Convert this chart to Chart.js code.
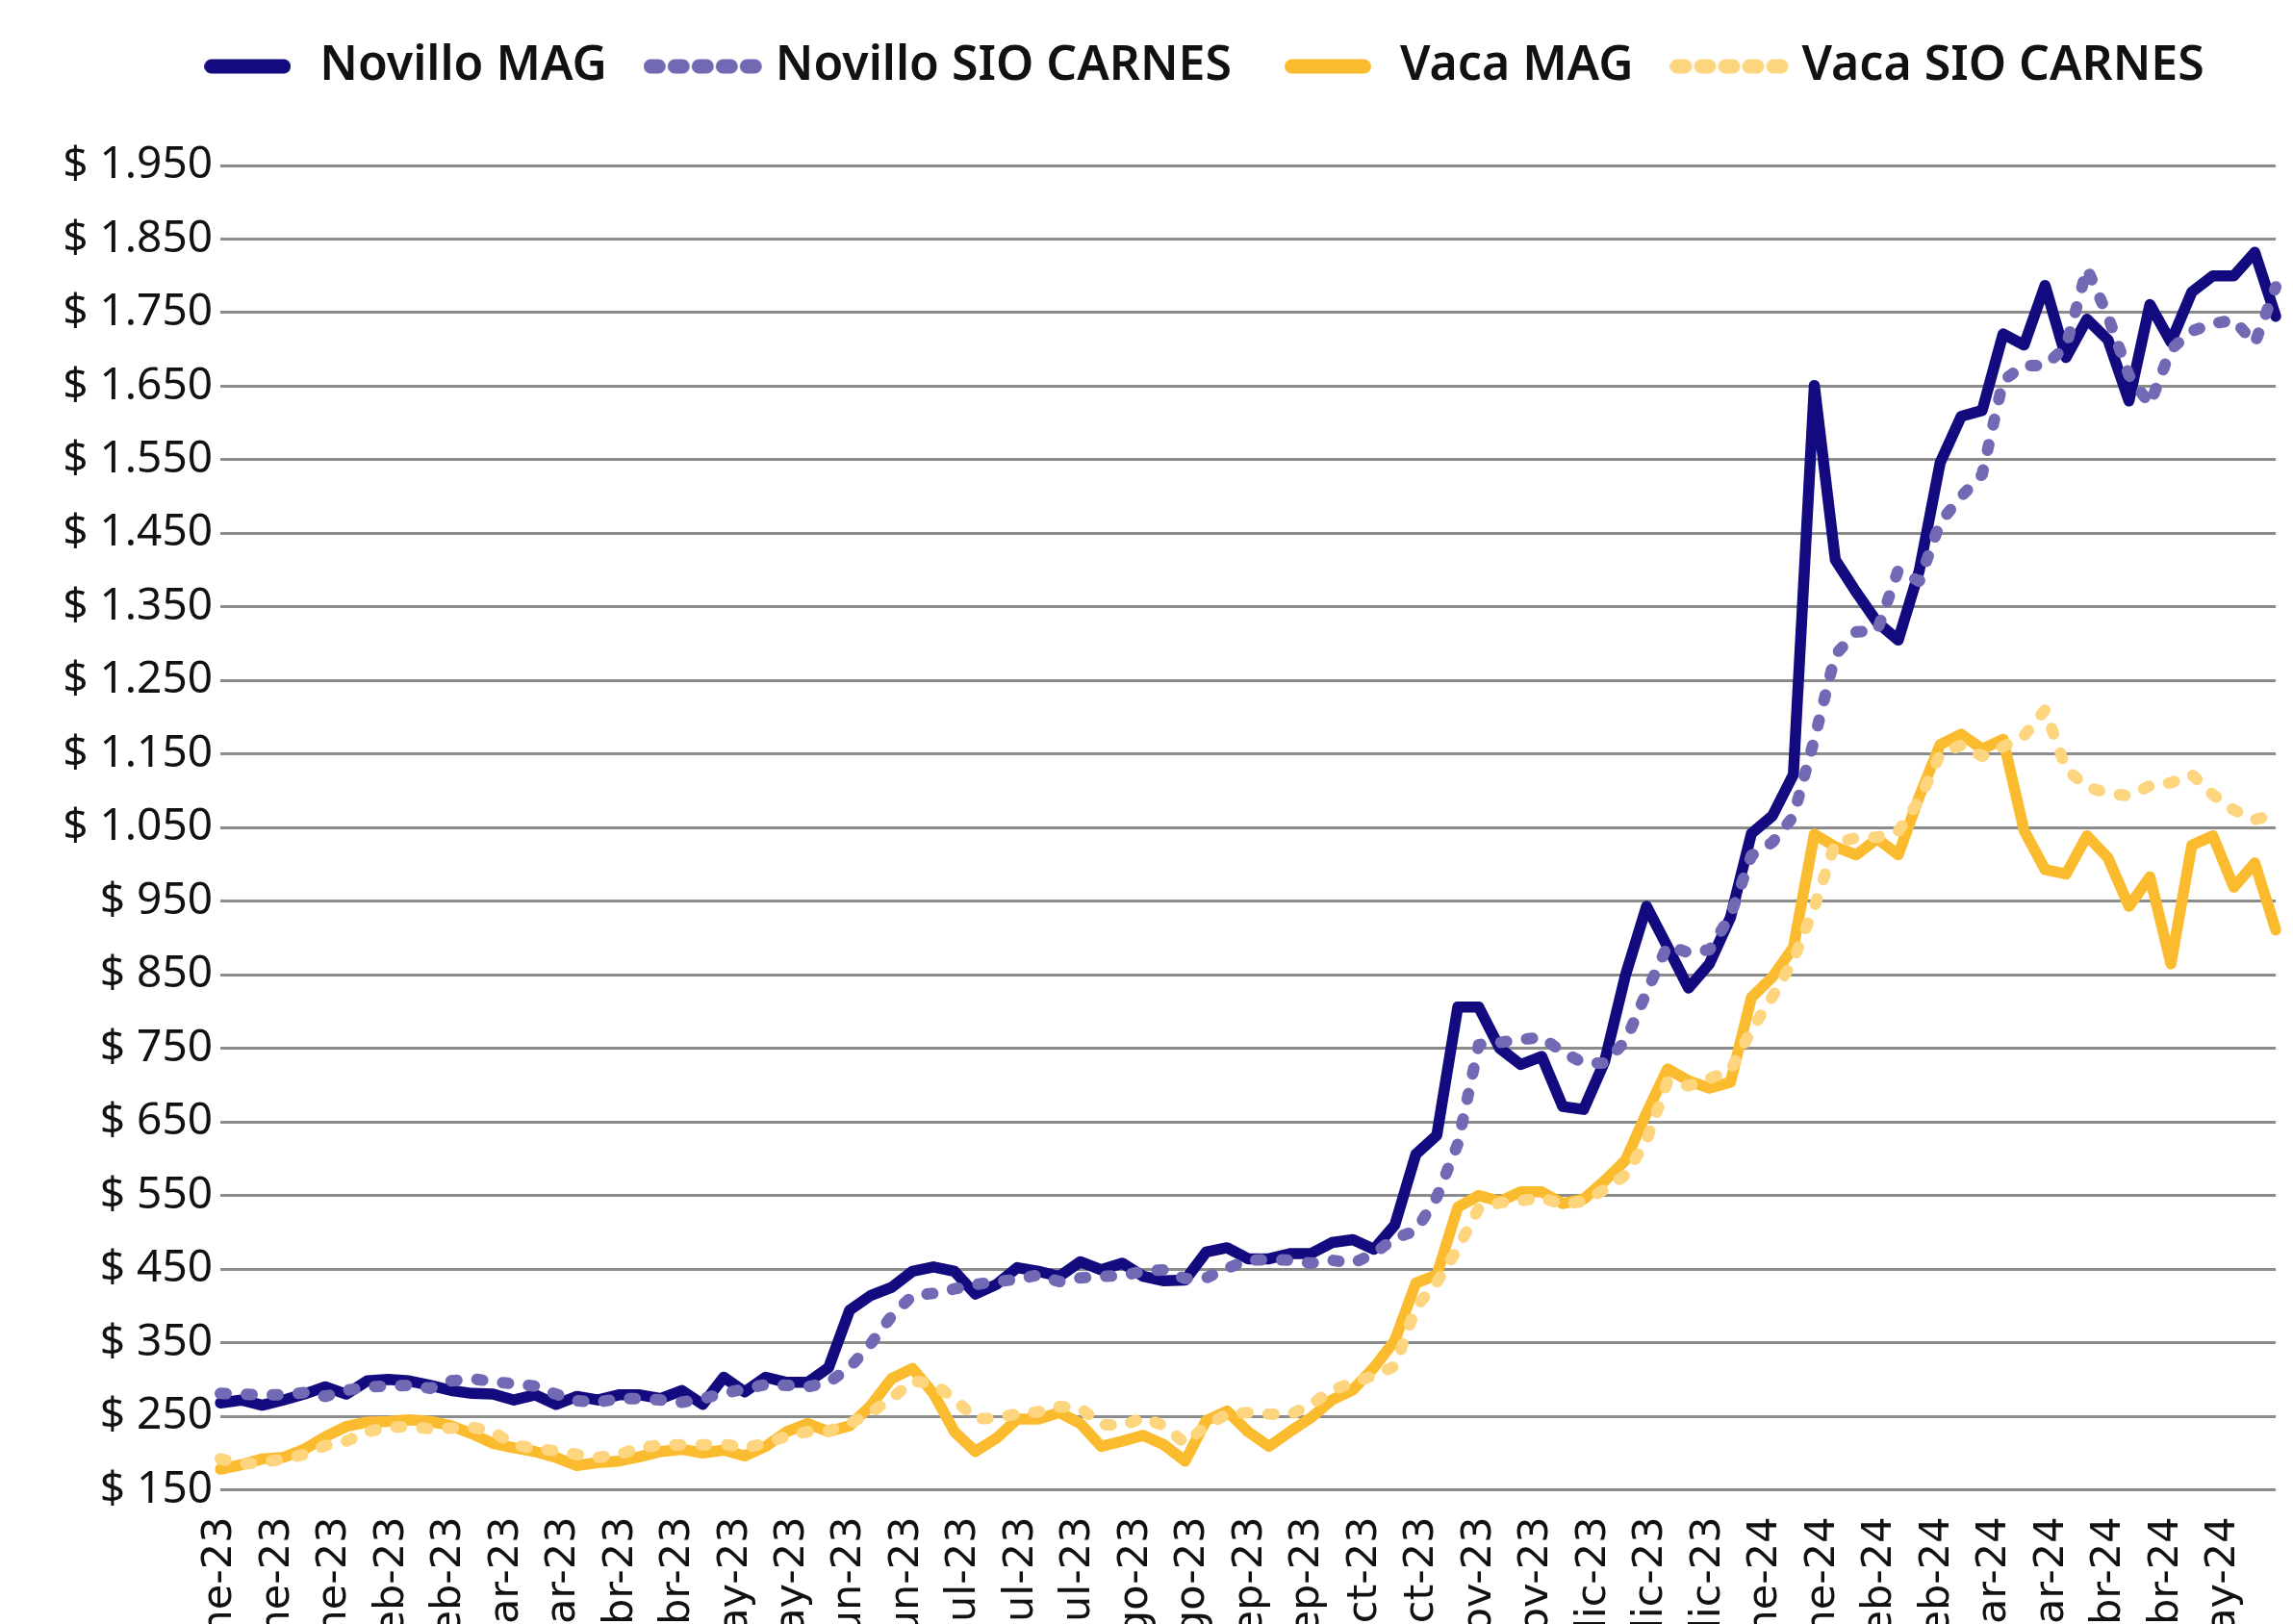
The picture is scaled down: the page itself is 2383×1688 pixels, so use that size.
<!DOCTYPE html>
<html lang="es">
<head>
<meta charset="utf-8">
<title>Novillo y Vaca - MAG vs SIO CARNES</title>
<script src="https://cdn.jsdelivr.net/npm/chart.js@4/dist/chart.umd.min.js"></script>
<style>
  html, body { margin: 0; padding: 0; background: #ffffff; }
  #wrap { width: 2383px; height: 1688px; }
</style>
</head>
<body>
<div id="wrap"><canvas id="precios" width="2383" height="1688"></canvas></div>
<script>
// weekly prices ($/kg)
const novilloMag = [268, 272, 265, 272, 280, 290, 280, 298, 300, 298,
  292, 285, 281, 280, 272, 279, 266, 277, 272, 279,
  279, 274, 285, 266, 303, 283, 303, 296, 296, 316,
  394, 414, 425, 447, 453, 447, 416, 429, 452, 447,
  440, 460, 449, 458, 440, 434, 435, 473, 479, 464,
  464, 471, 471, 486, 490, 477, 510, 606, 632, 806,
  806, 750, 728, 739, 671, 667, 732, 850, 943, 888,
  832, 865, 928, 1042, 1066, 1122, 1651, 1414, 1370, 1329,
  1305, 1399, 1546, 1609, 1617, 1721, 1706, 1787, 1689, 1741,
  1713, 1630, 1761, 1710, 1778, 1800, 1800, 1832, 1745];

const novilloSio = [281, 280, 279, 279, 282, 277, 285, 290, 291, 292,
  288, 298, 301, 297, 294, 291, 280, 271, 269, 274,
  274, 272, 269, 274, 281, 287, 293, 292, 290, 296,
  316, 348, 386, 414, 417, 423, 429, 433, 436, 442,
  433, 438, 440, 441, 447, 449, 437, 438, 451, 462,
  463, 462, 458, 462, 458, 471, 492, 502, 548, 620,
  755, 758, 762, 765, 745, 730, 730, 760, 826, 890,
  880, 884, 930, 1012, 1030, 1065, 1170, 1285, 1316, 1318,
  1400, 1385, 1465, 1500, 1530, 1658, 1678, 1678, 1704, 1810,
  1745, 1665, 1625, 1700, 1725, 1735, 1740, 1708, 1785];

const vacaMag = [178, 184, 192, 194, 205, 222, 236, 242, 243, 245,
  243, 237, 226, 213, 207, 202, 194, 183, 187, 189,
  195, 202, 205, 200, 204, 196, 209, 229, 240, 229,
  237, 264, 301, 315, 281, 229, 202, 220, 246, 246,
  255, 240, 209, 216, 224, 211, 189, 244, 257, 229,
  209, 229, 248, 272, 286, 316, 353, 431, 442, 534,
  550, 542, 555, 555, 539, 545, 570, 598, 662, 722,
  706, 696, 704, 819, 847, 887, 1041, 1024, 1013, 1035,
  1013, 1092, 1163, 1177, 1157, 1170, 1046, 993, 987, 1039,
  1009, 943, 983, 865, 1026, 1039, 969, 1002, 911];

const vacaSio = [192, 185, 187, 192, 198, 210, 216, 229, 235, 236,
  233, 234, 235, 229, 211, 206, 203, 198, 194, 198,
  207, 211, 211, 211, 212, 207, 213, 223, 229, 230,
  240, 255, 274, 298, 294, 274, 246, 248, 253, 256,
  263, 261, 239, 237, 248, 237, 213, 237, 253, 255,
  253, 252, 266, 285, 296, 305, 318, 398, 432, 478,
  533, 540, 543, 547, 538, 542, 558, 578, 625, 705,
  699, 709, 720, 775, 820, 870, 942, 1030, 1036, 1037,
  1045, 1087, 1150, 1162, 1147, 1160, 1175, 1210, 1130, 1105,
  1097, 1093, 1107, 1111, 1122, 1095, 1074, 1061, 1068];

// date-axis labels, one every two weeks
const tickLabels = ['ene-23', 'ene-23', 'ene-23', 'feb-23', 'feb-23', 'mar-23', 'mar-23',
  'abr-23', 'abr-23', 'may-23', 'may-23', 'jun-23', 'jun-23', 'jul-23', 'jul-23', 'jul-23',
  'ago-23', 'ago-23', 'sep-23', 'sep-23', 'oct-23', 'oct-23', 'nov-23', 'nov-23',
  'dic-23', 'dic-23', 'dic-23', 'ene-24', 'ene-24', 'feb-24', 'feb-24', 'mar-24', 'mar-24',
  'abr-24', 'abr-24', 'may-24'];

const seriesNames = ['Novillo MAG', 'Novillo SIO CARNES', 'Vaca MAG', 'Vaca SIO CARNES'];
const yTicks = { min: 150, max: 1950, step: 100 };

const weeks = novilloMag.map((_, i) => i + 1);

const NAVY = '#120a7e';
const PURPLE = '#7169b3';
const AMBER = '#fbbb2e';
const LIGHT_AMBER = '#fdd57e';
const DOTS = [6, 21];

// little line samples for the legend
function swatch(color, dotted) {
  const c = document.createElement('canvas');
  c.width = dotted ? 124 : 90;
  c.height = 18;
  const g = c.getContext('2d');
  g.strokeStyle = color;
  g.lineWidth = 15;
  g.lineCap = 'round';
  if (dotted) g.setLineDash([8, 17]);
  g.beginPath();
  g.moveTo(7.5, 9);
  g.lineTo(c.width - 7.5, 9);
  g.stroke();
  return c;
}
const swatches = [swatch(NAVY, false), swatch(PURPLE, true), swatch(AMBER, false), swatch(LIGHT_AMBER, true)];

function pesos(v) {
  return '$ ' + String(v).replace(/\B(?=(\d{3})+(?!\d))/g, '.');
}

const legendSpace = {
  id: 'legendSpace',
  beforeInit(chart) {
    const fit = chart.legend.fit;
    chart.legend.fit = function () {
      fit.call(this);
      this.height = 172;
    };
  },
  afterLayout(chart) {
    chart.legend.left += 120;
    chart.legend.top -= 6;
  }
};

Chart.defaults.font.family = '"Noto Sans", sans-serif';
Chart.defaults.color = '#1a1a1a';

new Chart(document.getElementById('precios'), {
  type: 'line',
  data: {
    labels: weeks,
    datasets: [
      {
        label: seriesNames[0],
        data: novilloMag,
        borderColor: NAVY,
        backgroundColor: NAVY,
        borderWidth: 11.5,
        borderCapStyle: 'round',
        borderJoinStyle: 'round',
        order: 4
      },
      {
        label: seriesNames[1],
        data: novilloSio,
        borderColor: PURPLE,
        backgroundColor: PURPLE,
        borderWidth: 12,
        borderDash: DOTS,
        borderCapStyle: 'round',
        borderJoinStyle: 'round',
        order: 3
      },
      {
        label: seriesNames[2],
        data: vacaMag,
        borderColor: AMBER,
        backgroundColor: AMBER,
        borderWidth: 11.5,
        borderCapStyle: 'round',
        borderJoinStyle: 'round',
        order: 2
      },
      {
        label: seriesNames[3],
        data: vacaSio,
        borderColor: LIGHT_AMBER,
        backgroundColor: LIGHT_AMBER,
        borderWidth: 12,
        borderDash: DOTS,
        borderCapStyle: 'round',
        borderJoinStyle: 'round',
        order: 1
      }
    ]
  },
  options: {
    responsive: false,
    animation: false,
    devicePixelRatio: 1,
    elements: { point: { radius: 0, hoverRadius: 0 }, line: { tension: 0 } },
    layout: { padding: { top: 0, right: 5, bottom: 0, left: 0 } },
    scales: {
      x: {
        type: 'category',
        display: false
      },
      xt: {
        type: 'linear',
        position: 'bottom',
        min: 0,
        max: 35.91,
        grid: { display: false },
        border: { display: false },
        ticks: {
          stepSize: 1,
          includeBounds: false,
          autoSkip: false,
          minRotation: 90,
          maxRotation: 90,
          padding: 20,
          color: '#111111',
          font: { family: '"DejaVu Sans", sans-serif', size: 43 },
          callback: (v) => Number.isInteger(v) ? tickLabels[v] : ''
        },
        afterFit: (scale) => { scale.height = 139.5; }
      },
      y: {
        min: yTicks.min,
        max: yTicks.max,
        grid: { color: '#8c8c8c', lineWidth: 3, drawTicks: false },
        border: { display: false },
        ticks: {
          stepSize: yTicks.step,
          padding: 8,
          color: '#111111',
          font: { size: 46 },
          callback: (v) => pesos(v)
        },
        afterFit: (scale) => { scale.width = 229; }
      }
    },
    plugins: {
      tooltip: { enabled: false },
      legend: {
        position: 'top',
        labels: {
          usePointStyle: true,
          pointStyleWidth: 100,
          padding: 50,
          color: '#111111',
          font: { size: 50, weight: '600' },
          sort: (a, b) => a.datasetIndex - b.datasetIndex,
          generateLabels(chart) {
            const items = Chart.defaults.plugins.legend.labels.generateLabels(chart);
            items.forEach((it) => { it.pointStyle = swatches[it.datasetIndex]; });
            return items;
          }
        }
      }
    }
  },
  plugins: [legendSpace]
});
</script>
</body>
</html>
